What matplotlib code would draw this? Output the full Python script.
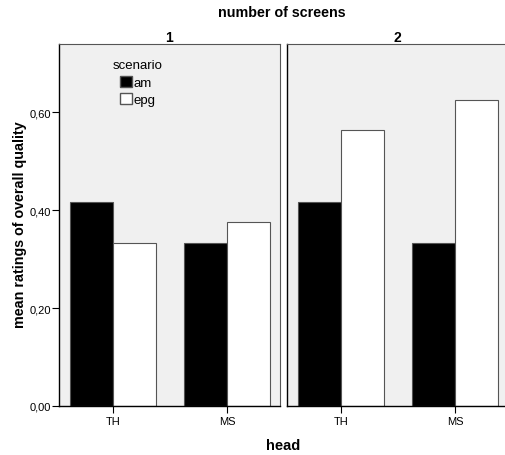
import matplotlib
matplotlib.use("Agg")
import matplotlib.pyplot as plt
from matplotlib.patches import Patch
import numpy as np

# values
heads = ["TH", "MS"]
panels = ["1", "2"]
am = {"1": [0.4167, 0.3333], "2": [0.4167, 0.3333]}
epg = {"1": [0.3333, 0.375], "2": [0.5625, 0.625]}
yticks = [0.0, 0.2, 0.4, 0.6]

plt.rcParams['font.family'] = ['Liberation Sans', 'DejaVu Sans']

fig = plt.figure(figsize=(5.05, 4.56), dpi=100)
bg = '#f0f0f0'
edge = '#555555'
w = 0.375
x = np.arange(len(heads))

lefts = [59 / 505, 287 / 505]
axes = []
for i, p in enumerate(panels):
    ax = fig.add_axes([lefts[i], 1 - 407 / 456, 221 / 505, (407 - 45) / 456])
    ax.set_facecolor(bg)
    ax.bar(x - w / 2, am[p], w, color='black', edgecolor=edge, linewidth=0.8, label='am')
    ax.bar(x + w / 2, epg[p], w, color='white', edgecolor=edge, linewidth=0.8, label='epg')
    ax.set_xlim(-0.474, 1.465)
    ax.set_ylim(0, 0.739)
    ax.set_xticks(x)
    ax.set_xticklabels(heads, fontsize=8)
    ax.tick_params(axis='x', length=5, width=0.8, pad=2)
    for s in ['top', 'right']:
        ax.spines[s].set_color(edge)
        ax.spines[s].set_linewidth(0.8)
    ax.spines['left'].set_linewidth(1.0)
    ax.spines['bottom'].set_linewidth(1.0)
    ax.set_title(p, fontsize=10, fontweight='bold', pad=1)
    if i == 0:
        ax.set_yticks(yticks)
        ax.set_yticklabels([f"{v:.2f}".replace('.', ',') for v in yticks], fontsize=8)
        ax.tick_params(axis='y', length=5, width=0.8, pad=1)
        handles = [Patch(facecolor='black', edgecolor=edge, label='am'),
                   Patch(facecolor='white', edgecolor=edge, label='epg')]
        ax.legend(handles=handles, title='scenario', loc='upper left',
                  bbox_to_anchor=(113 / 505, 1 - 60 / 456), bbox_transform=fig.transFigure,
                  frameon=False, fontsize=9.5, title_fontsize=9.5,
                  handlelength=0.9, handleheight=0.9, handletextpad=0.1,
                  labelspacing=0.35, borderpad=0.0, borderaxespad=0.0)
    else:
        ax.set_yticks([])
    axes.append(ax)

fig.text(282 / 505, 1 - 13 / 456, 'number of screens', ha='center', va='center',
         fontsize=10.3, fontweight='bold')
fig.text(283 / 505, 1 - 446 / 456, 'head', ha='center', va='center',
         fontsize=10.5, fontweight='bold')
fig.text(20 / 505, 1 - 225 / 456, 'mean ratings of overall quality', ha='center', va='center',
         rotation=90, fontsize=10.3, fontweight='bold')

fig.savefig('out.png', dpi=100)
